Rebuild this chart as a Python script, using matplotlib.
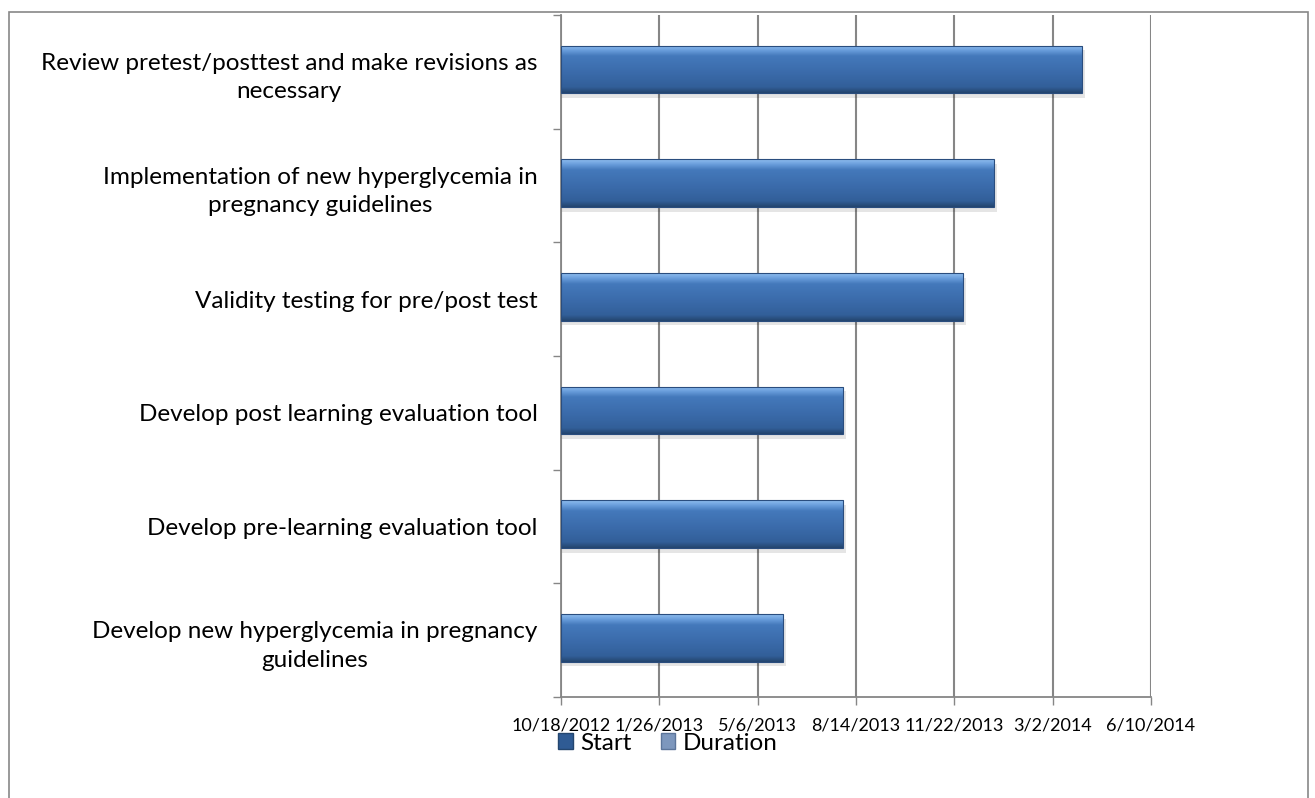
import matplotlib
matplotlib.use("Agg")
import matplotlib.pyplot as plt
import matplotlib.dates as mdates
import numpy as np
from matplotlib.patches import Rectangle
from matplotlib.colors import LinearSegmentedColormap
import datetime as dt

tasks = [
    "Develop new hyperglycemia in pregnancy\nguidelines",
    "Develop pre-learning evaluation tool",
    "Develop post learning evaluation tool",
    "Validity testing for pre/post test",
    "Implementation of new hyperglycemia in\npregnancy guidelines",
    "Review pretest/posttest and make revisions as\nnecessary",
]
start = ["2013-06-01", "2013-08-01", "2013-08-01", "2013-12-01", "2014-01-01", "2014-04-01"]
duration = [0, 0, 0, 0, 0, 0]
axis_min = "2012-10-18"
axis_max = "2014-06-10"
tick_step_days = 100

plt.rcParams['font.family'] = ['Lato', 'DejaVu Sans']

fig = plt.figure(figsize=(13.15, 7.98), dpi=100)
ax = fig.add_axes([561/1315, 1-697/798, (1151-561)/1315, (697-15)/798])

xmin = mdates.date2num(dt.datetime.fromisoformat(axis_min))
xmax = mdates.date2num(dt.datetime.fromisoformat(axis_max))
start_num = np.array([mdates.date2num(dt.datetime.fromisoformat(s)) for s in start])
y = np.arange(len(tasks))

bars = ax.barh(y + 0.02, start_num, left=0, height=0.42, color='#3a6cad', edgecolor='none', zorder=3, label='Start')
ax.barh(y + 0.02, duration, left=start_num, height=0.42, color='#7d97bd', edgecolor='none', zorder=3, label='Duration')

cmap = LinearSegmentedColormap.from_list('bev', [
    (0.0, '#8fbdee'), (0.1, '#6a9edc'), (0.22, '#4479bb'), (0.6, '#3a6aa9'), (0.88, '#325f99'), (1.0, '#24466f')])
grad = np.linspace(0, 1, 64).reshape(-1, 1)
for b in bars:
    x0 = xmin
    x1 = b.get_x() + b.get_width()
    y0 = b.get_y(); y1 = y0 + b.get_height()
    sh = Rectangle((x0, y0 - 0.04), x1 - x0 + 3, b.get_height(), color='#000000', alpha=0.10, zorder=2, lw=0)
    ax.add_patch(sh)
    im = ax.imshow(grad, extent=[x0, x1, y0, y1], origin='upper', aspect='auto', cmap=cmap,
                   zorder=4, interpolation='bilinear')
    im.set_clip_path(b)
    ax.add_patch(Rectangle((x0, y0), x1 - x0, b.get_height(), fill=False, edgecolor='#2a4d7e', lw=0.8, zorder=5))

ax.set_xlim(xmin, xmax)
ax.set_ylim(-0.5, len(tasks) - 0.5)
ticks = np.arange(xmin, xmax + 1, tick_step_days)
ax.set_xticks(ticks)
ax.set_xticklabels([f"{d.month}/{d.day}/{d.year}" for d in mdates.num2date(ticks)], fontsize=13)
ax.tick_params(axis='x', length=6, width=1, color='#868686', direction='out', pad=9)
ax.xaxis.grid(True, color='#868686', lw=1.5, zorder=0)
ax.set_axisbelow(True)

ax.set_yticks(y)
ax.set_yticklabels(tasks, fontsize=17.5, multialignment='center', linespacing=1.45)
ax.set_yticks(np.arange(-0.5, len(tasks), 1), minor=True)
ax.tick_params(axis='y', which='major', length=0, pad=17)
ax.tick_params(axis='y', which='minor', length=6, width=1, color='#868686', direction='out')

for s in ['top', 'right']:
    ax.spines[s].set_visible(False)
for s in ['left', 'bottom']:
    ax.spines[s].set_color('#868686')
    ax.spines[s].set_linewidth(1.3)

fig.add_artist(Rectangle((9/1315, -0.01), (1308-9)/1315, 1 - 12/798 + 0.01, transform=fig.transFigure,
                         fill=False, edgecolor='#878787', lw=1.2))

h1 = Rectangle((0, 0), 1, 1, facecolor='#2f5b94', edgecolor='#24466f')
h2 = Rectangle((0, 0), 1, 1, facecolor='#7d97bd', edgecolor='#5c759a')
fig.legend([h1, h2], ['Start', 'Duration'], loc='center', bbox_to_anchor=(668/1315, 1 - 743/798),
           ncol=2, frameon=False, fontsize=17.5, handlelength=0.6, handleheight=0.6,
           handletextpad=0.3, columnspacing=1.2)

fig.savefig('out.png', dpi=100)
